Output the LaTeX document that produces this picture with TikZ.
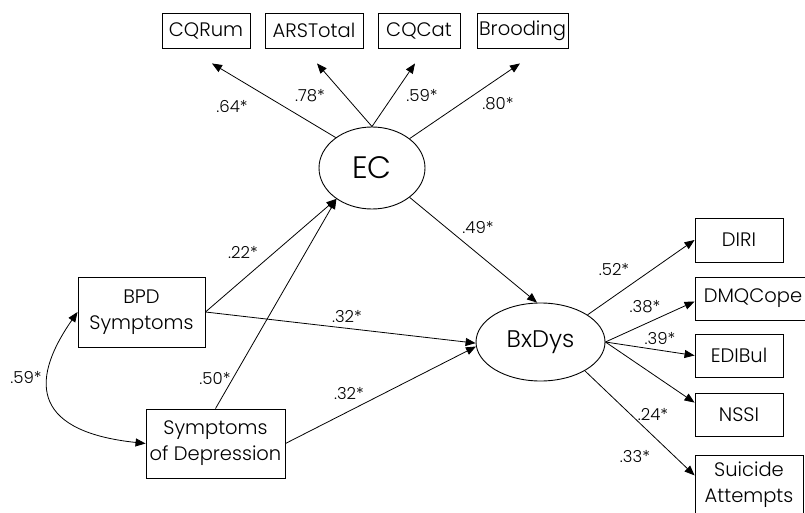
\documentclass[tikz,border=0pt]{standalone}
\usepackage{fontspec}
\setmainfont{Poppins}[UprightFont=* Light]
\usetikzlibrary{arrows.meta}
\usetikzlibrary{shapes.geometric}

\begin{document}
\begin{tikzpicture}[x=1pt,y=-1pt,
        obs/.style={draw, line width=0.9pt, inner sep=0pt, align=center,
            font=\fontsize{19.5}{26}\selectfont},
        lat/.style={draw, ellipse, line width=0.9pt, inner sep=0pt},
        coef/.style={font=\fontsize{16.5}{20}\selectfont, inner sep=1pt},
        effect/.style={line width=0.8pt, -{Triangle[length=10pt,width=8pt]}},
        cov/.style={line width=0.8pt,
            {Triangle[length=10pt,width=8pt]}-{Triangle[length=10pt,width=8pt]}}]
            \useasboundingbox (0,0) rectangle (805,513);

            % Latent factors
            \node[lat, minimum width=106pt, minimum height=82pt,
                font=\fontsize{31}{32}\selectfont] (EC) at (372,168) {EC};
            \node[lat, minimum width=129pt, minimum height=78pt,
                font=\fontsize{24}{25}\selectfont] (BxDys) at (540.5,342) {BxDys};

            % Indicators of EC
            \node[obs, minimum width=88pt, minimum height=35pt] (CQRum) at (206,30.5) {CQRum};
            \node[obs, minimum width=98pt, minimum height=35pt] (ARSTotal) at (314,30.5) {ARSTotal};
            \node[obs, minimum width=82pt, minimum height=35pt] (CQCat) at (419,30.5) {CQCat};
            \node[obs, minimum width=91pt, minimum height=35pt] (Brooding) at (522.5,30.5) {Brooding};
            \draw[effect] (EC.140) -- ([xshift=6pt,yshift=-15pt]CQRum.south);
            \draw[effect] (EC.north) -- ([xshift=3pt,yshift=-15pt]ARSTotal.south);
            \draw[effect] (EC.north) -- ([xshift=-4pt,yshift=-15pt]CQCat.south);
            \draw[effect] (EC.38) -- ([xshift=-2.5pt,yshift=-15pt]Brooding.south);
            \node[coef] (l64) at (232,107) {.64*};
            \node[coef] (l78) at (310,96) {.78*};
            \node[coef] (l59a) at (422,96) {.59*};
            \node[coef] (l80) at (498,104) {.80*};

            % Predictors
            \node[obs, minimum width=127pt, minimum height=70pt] (BPD) at (141.5,312) {BPD\\Symptoms};
            \node[obs, minimum width=139pt, minimum height=69pt] (Dep) at (215.5,443.5) {Symptoms\\of Depression};
            \draw[effect] (BPD.east) -- (EC.221);
            \draw[effect] (Dep.north) -- (EC.221);
            \draw[effect] (BPD.east) -- (BxDys.181);
            \draw[effect] (Dep.east) -- (BxDys.184);
            \draw[effect] (EC.-38) -- (BxDys.95);
            \draw[cov] (BPD.west) .. controls (26,386) and (38,432) .. (Dep.west);
            \node[coef] (l22) at (243,253) {.22*};
            \node[coef] (l50) at (215,378) {.50*};
            \node[coef] (l32a) at (347,317) {.32*};
            \node[coef] (l32b) at (349,393) {.32*};
            \node[coef] (l49) at (478,228) {.49*};
            \node[coef] (l59b) at (26,377) {.59*};

            % Indicators of BxDys
            \node[obs, minimum width=88pt, minimum height=44pt] (DIRI) at (739,240) {DIRI};
            \node[obs, minimum width=116pt, minimum height=43pt] (DMQCope) at (753,298.5) {DMQCope};
            \node[obs, minimum width=88pt, minimum height=43pt] (EDIBul) at (739,355.5) {EDIBul};
            \node[obs, minimum width=88pt, minimum height=43pt] (NSSI) at (739,414.5) {NSSI};
            \node[obs, minimum width=108pt, minimum height=60pt] (Suicide) at (749,485) {Suicide\\Attempts};
            \draw[effect] (BxDys.30) -- (DIRI.west);
            \draw[effect] (BxDys.east) -- ([yshift=-3pt]DMQCope.west);
            \draw[effect] (BxDys.east) -- (EDIBul.west);
            \draw[effect] (BxDys.east) -- (NSSI.165);
            \draw[effect] (BxDys.-33) -- (Suicide.170);
            \node[coef] (l52) at (614,270) {.52*};
            \node[coef] (l38) at (645,307) {.38*};
            \node[coef] (l39) at (660,339) {.39*};
            \node[coef] (l24) at (653,414) {.24*};
            \node[coef] (l33) at (635,456) {.33*};
        \end{tikzpicture}
\end{document}
